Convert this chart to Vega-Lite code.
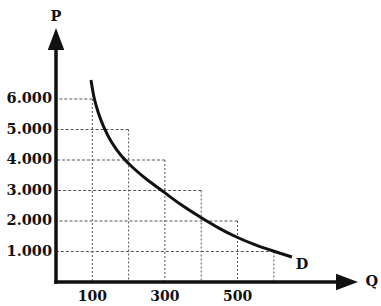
{
  "$schema": "https://vega.github.io/schema/vega-lite/v6.json",
  "width": 325,
  "height": 282,
  "autosize": "none",
  "padding": {"left": 56, "top": 0, "right": 0, "bottom": 24},
  "background": "white",
  "config": {"view": {"stroke": null}},
  "datasets": {
    "steps": [
      {"q": 100, "p": 6000},
      {"q": 200, "p": 5000},
      {"q": 300, "p": 4000},
      {"q": 400, "p": 3000},
      {"q": 500, "p": 2000},
      {"q": 600, "p": 1000}
    ],
    "curve": [
      {"q": 96.4, "p": 6623},
      {"q": 104.7, "p": 6000},
      {"q": 115.7, "p": 5574},
      {"q": 129.5, "p": 5115},
      {"q": 151.5, "p": 4590},
      {"q": 179, "p": 4131},
      {"q": 212, "p": 3738},
      {"q": 250.7, "p": 3344},
      {"q": 297.5, "p": 2951},
      {"q": 344, "p": 2525},
      {"q": 396.7, "p": 2131},
      {"q": 451.8, "p": 1738},
      {"q": 495.9, "p": 1475},
      {"q": 548, "p": 1213},
      {"q": 597.8, "p": 1016},
      {"q": 650, "p": 820}
    ],
    "ylabels": [
      {"q": 0, "p": 1000, "label": "1.000"},
      {"q": 0, "p": 2000, "label": "2.000"},
      {"q": 0, "p": 3000, "label": "3.000"},
      {"q": 0, "p": 4000, "label": "4.000"},
      {"q": 0, "p": 5000, "label": "5.000"},
      {"q": 0, "p": 6000, "label": "6.000"}
    ],
    "xlabels": [
      {"q": 100, "p": 0, "label": "100"},
      {"q": 300, "p": 0, "label": "300"},
      {"q": 500, "p": 0, "label": "500"}
    ],
    "names": [
      {"q": 0, "p": 8689, "label": "P"},
      {"q": 870, "p": 0, "label": "Q"},
      {"q": 678, "p": 557, "label": "D"}
    ],
    "axes": [
      {"q": 0, "p": 0, "q2": 0, "p2": 7607},
      {"q": 0, "p": 0, "q2": 771, "p2": 0}
    ],
    "heads": [
      {"q": 0, "p": 7967, "dir": "up"},
      {"q": 801.7, "p": 0, "dir": "right"}
    ]
  },
  "layer": [
    {
      "data": {"name": "steps"},
      "mark": {"type": "rule", "color": "#555", "strokeWidth": 1, "strokeDash": [3, 2]},
      "encoding": {
        "x": {"field": "q", "type": "quantitative", "scale": {"domain": [0, 895.3], "nice": false, "zero": false}, "axis": null},
        "x2": {"datum": 0},
        "y": {"field": "p", "type": "quantitative", "scale": {"domain": [0, 9246], "nice": false, "zero": false}, "axis": null}
      }
    },
    {
      "data": {"name": "steps"},
      "mark": {"type": "rule", "color": "#555", "strokeWidth": 1, "strokeDash": [2, 2]},
      "encoding": {
        "x": {"field": "q", "type": "quantitative", "scale": {"domain": [0, 895.3], "nice": false, "zero": false}, "axis": null},
        "y": {"field": "p", "type": "quantitative", "scale": {"domain": [0, 9246], "nice": false, "zero": false}, "axis": null},
        "y2": {"datum": 0}
      }
    },
    {
      "data": {"name": "curve"},
      "mark": {"type": "line", "color": "#111", "strokeWidth": 3, "interpolate": "basis"},
      "encoding": {
        "x": {"field": "q", "type": "quantitative", "scale": {"domain": [0, 895.3], "nice": false, "zero": false}, "axis": null},
        "y": {"field": "p", "type": "quantitative", "scale": {"domain": [0, 9246], "nice": false, "zero": false}, "axis": null},
        "order": {"field": "q", "type": "quantitative"}
      }
    },
    {
      "data": {"name": "axes"},
      "mark": {"type": "rule", "color": "#111", "strokeWidth": 3.5, "strokeCap": "square"},
      "encoding": {
        "x": {"field": "q", "type": "quantitative", "scale": {"domain": [0, 895.3], "nice": false, "zero": false}, "axis": null},
        "x2": {"field": "q2"},
        "y": {"field": "p", "type": "quantitative", "scale": {"domain": [0, 9246], "nice": false, "zero": false}, "axis": null},
        "y2": {"field": "p2"}
      }
    },
    {
      "data": {"name": "heads"},
      "transform": [{"filter": "datum.dir === 'up'"}],
      "mark": {"type": "point", "filled": true, "color": "#111", "opacity": 1, "size": 484, "shape": "M0,-1L0.75,1L-0.75,1Z"},
      "encoding": {
        "x": {"field": "q", "type": "quantitative", "scale": {"domain": [0, 895.3], "nice": false, "zero": false}, "axis": null},
        "y": {"field": "p", "type": "quantitative", "scale": {"domain": [0, 9246], "nice": false, "zero": false}, "axis": null}
      }
    },
    {
      "data": {"name": "heads"},
      "transform": [{"filter": "datum.dir === 'right'"}],
      "mark": {"type": "point", "filled": true, "color": "#111", "opacity": 1, "size": 484, "shape": "M1,0L-1,-0.75L-1,0.75Z"},
      "encoding": {
        "x": {"field": "q", "type": "quantitative", "scale": {"domain": [0, 895.3], "nice": false, "zero": false}, "axis": null},
        "y": {"field": "p", "type": "quantitative", "scale": {"domain": [0, 9246], "nice": false, "zero": false}, "axis": null}
      }
    },
    {
      "data": {"name": "ylabels"},
      "mark": {"type": "text", "align": "right", "baseline": "middle", "dx": -4, "font": "DejaVu Serif", "fontWeight": "bold", "fontSize": 14.5, "color": "#111"},
      "encoding": {
        "x": {"field": "q", "type": "quantitative", "scale": {"domain": [0, 895.3], "nice": false, "zero": false}, "axis": null},
        "y": {"field": "p", "type": "quantitative", "scale": {"domain": [0, 9246], "nice": false, "zero": false}, "axis": null},
        "text": {"field": "label"}
      }
    },
    {
      "data": {"name": "xlabels"},
      "mark": {"type": "text", "align": "center", "baseline": "top", "dy": 8, "font": "DejaVu Serif", "fontWeight": "bold", "fontSize": 14, "color": "#111"},
      "encoding": {
        "x": {"field": "q", "type": "quantitative", "scale": {"domain": [0, 895.3], "nice": false, "zero": false}, "axis": null},
        "y": {"field": "p", "type": "quantitative", "scale": {"domain": [0, 9246], "nice": false, "zero": false}, "axis": null},
        "text": {"field": "label"}
      }
    },
    {
      "data": {"name": "names"},
      "mark": {"type": "text", "align": "center", "baseline": "middle", "font": "DejaVu Serif", "fontWeight": "bold", "fontSize": 14.5, "color": "#111"},
      "encoding": {
        "x": {"field": "q", "type": "quantitative", "scale": {"domain": [0, 895.3], "nice": false, "zero": false}, "axis": null},
        "y": {"field": "p", "type": "quantitative", "scale": {"domain": [0, 9246], "nice": false, "zero": false}, "axis": null},
        "text": {"field": "label"}
      }
    }
  ]
}
